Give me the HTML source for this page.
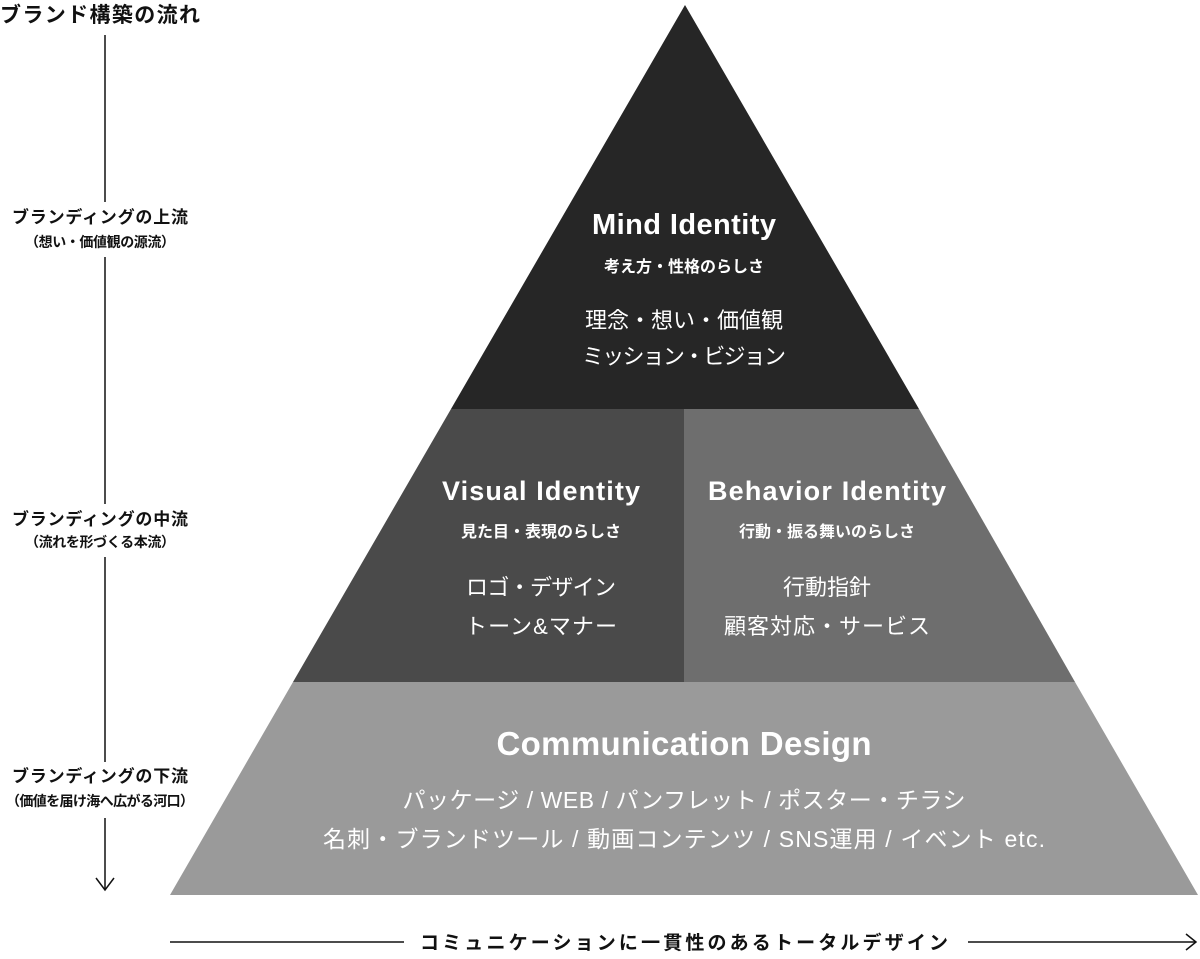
<!DOCTYPE html>
<html><head><meta charset="utf-8"><style>
body{margin:0;background:#fff;width:1200px;height:954px;overflow:hidden}
svg text{font-family:"Liberation Sans","Noto Sans CJK JP",sans-serif}
</style></head><body>
<svg width="1200" height="954" viewBox="0 0 1200 954" xmlns="http://www.w3.org/2000/svg">
<polygon points="685,5 451,409 919,409" fill="#262626"/>
<polygon points="451,409 684,409 684,682 293,682" fill="#4a4a4a"/>
<polygon points="684,409 919,409 1075,682 684,682" fill="#6e6e6e"/>
<polygon points="293,682 1075,682 1198,895 170,895" fill="#9a9a9a"/>
<g fill="#fff" text-anchor="middle">
<text x="684" y="234" font-size="29" font-weight="bold" textLength="184">Mind Identity</text>
<text x="684" y="272" font-size="16" font-weight="bold">考え方・性格のらしさ</text>
<text x="684" y="328" font-size="22" textLength="198">理念・想い・価値観</text>
<text x="684" y="364" font-size="22" textLength="204">ミッション・ビジョン</text>
<text x="541" y="500" font-size="27" font-weight="bold" textLength="198">Visual Identity</text>
<text x="541" y="537" font-size="16" font-weight="bold">見た目・表現のらしさ</text>
<text x="541" y="595" font-size="22" textLength="150">ロゴ・デザイン</text>
<text x="541" y="634" font-size="22" textLength="152">トーン&amp;マナー</text>
<text x="827" y="500" font-size="27" font-weight="bold" textLength="238">Behavior Identity</text>
<text x="827" y="537" font-size="16" font-weight="bold">行動・振る舞いのらしさ</text>
<text x="827" y="595" font-size="22">行動指針</text>
<text x="827" y="634" font-size="22" textLength="206">顧客対応・サービス</text>
<text x="684" y="755" font-size="33" font-weight="bold" textLength="375">Communication Design</text>
<text x="684" y="808" font-size="23" textLength="563">パッケージ / WEB / パンフレット / ポスター・チラシ</text>
<text x="684" y="847" font-size="23" textLength="722">名刺・ブランドツール / 動画コンテンツ / SNS運用 / イベント etc.</text>
</g>
<g fill="#111" text-anchor="middle" font-weight="bold">
<text x="100" y="22" font-size="21" textLength="200">ブランド構築の流れ</text>
<text x="100" y="223" font-size="17" textLength="176">ブランディングの上流</text>
<text x="100" y="247" font-size="14" textLength="150">（想い・価値観の源流）</text>
<text x="100" y="525" font-size="17" textLength="176">ブランディングの中流</text>
<text x="100" y="547" font-size="14" textLength="150">（流れを形づくる本流）</text>
<text x="100" y="782" font-size="17" textLength="176">ブランディングの下流</text>
<text x="100" y="806" font-size="14" textLength="188">（価値を届け海へ広がる河口）</text>
<text x="684" y="949" font-size="19" textLength="528">コミュニケーションに一貫性のあるトータルデザイン</text>
</g>
<g stroke="#111" stroke-width="1.5" fill="none">
<line x1="105" y1="35" x2="105" y2="202"/>
<line x1="105" y1="257" x2="105" y2="504"/>
<line x1="105" y1="557" x2="105" y2="762"/>
<line x1="105" y1="818" x2="105" y2="890"/>
<polyline points="96,878 105,890 114,878"/>
<line x1="170" y1="942" x2="404" y2="942"/>
<line x1="968" y1="942" x2="1196" y2="942"/>
<polyline points="1186,934 1196,942 1186,950"/>
</g>
</svg>
</body></html>
